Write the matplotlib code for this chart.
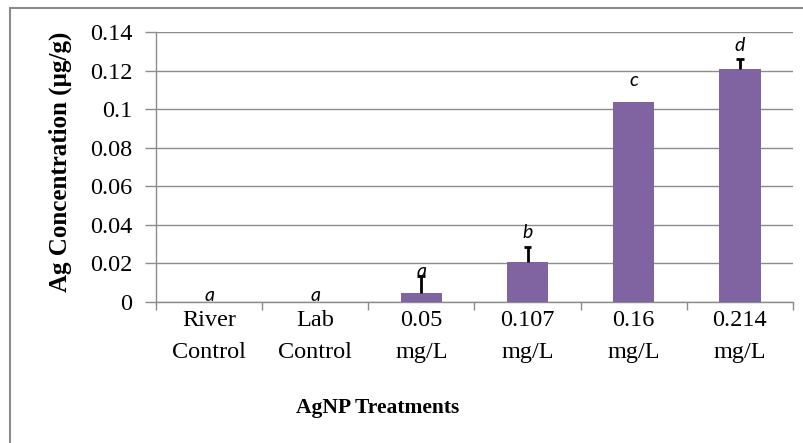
import matplotlib
matplotlib.use("Agg")
import matplotlib.pyplot as plt
from matplotlib.lines import Line2D
import numpy as np

categories = ["River\nControl", "Lab\nControl", "0.05\nmg/L", "0.107\nmg/L", "0.16\nmg/L", "0.214\nmg/L"]
ag_conc = [0.0, 0.0, 0.0045, 0.0209, 0.1035, 0.121]
ag_err = [0.0, 0.0, 0.009, 0.0078, 0.0, 0.005]
letters = ["a", "a", "a", "b", "c", "d"]
# vertical offset of each significance letter above its bar/error cap (points)
letter_offset = [5, 5, 3.5, 10, 16, 10]

serif = "Liberation Serif"
bar_color = "#8064A2"
grid_color = "#8C8C8C"

fig = plt.figure(figsize=(8.04, 4.43), dpi=100)
ax = fig.add_axes([0.194, 0.3183, 0.7923, 0.6095])

x = np.arange(len(categories))
ax.bar(x, ag_conc, width=0.39, color=bar_color, zorder=3)

# upper-only error bars with a cap
cap_half = 0.037
for xi, v, e in zip(x, ag_conc, ag_err):
    if e > 0:
        ax.vlines(xi, v, v + e, color="black", linewidth=2, zorder=4)
        ax.hlines(v + e, xi - cap_half, xi + cap_half, color="black", linewidth=2, zorder=4)

for xi, v, e, lab, off in zip(x, ag_conc, ag_err, letters, letter_offset):
    ax.annotate(lab, (xi, v + e), xytext=(0, off), textcoords="offset points",
                ha="center", va="center", fontsize=14, style="italic",
                family="Lato", color="black", zorder=5)

ax.set_xlim(-0.5, len(categories) - 0.5)
ax.set_ylim(0, 0.14)
ax.set_yticks(np.arange(0, 0.141, 0.02))
ax.set_yticklabels(["0", "0.02", "0.04", "0.06", "0.08", "0.1", "0.12", "0.14"],
                   family=serif, fontsize=17.5)
ax.yaxis.grid(True, color=grid_color, linewidth=1)
ax.set_axisbelow(True)

ax.set_xticks(x)
ax.set_xticklabels(categories, family=serif, fontsize=17.5, linespacing=1.65)
ax.set_xticks(np.arange(-0.5, len(categories)), minor=True)
ax.tick_params(axis="x", which="major", length=0, pad=6)
ax.tick_params(axis="x", which="minor", length=6, color=grid_color, width=1)
ax.tick_params(axis="y", length=8, color=grid_color, width=1, pad=9)

for side in ["top", "right"]:
    ax.spines[side].set_visible(False)
for side in ["left", "bottom"]:
    ax.spines[side].set_color(grid_color)
    ax.spines[side].set_linewidth(1)

fig.text(60 / 804, 1 - 162 / 443, "Ag Concentration (µg/g)", rotation=90,
         ha="center", va="center", family=serif, fontsize=18, fontweight="bold")
fig.text(378 / 804, 1 - 408 / 443, "AgNP Treatments", ha="center", va="center",
         family=serif, fontsize=15.5, fontweight="bold")

# chart frame (top and left edges)
fig.add_artist(Line2D([10 / 804, 10 / 804], [0, 1 - 8 / 443], transform=fig.transFigure,
                      color="#8C8C8C", linewidth=1.5))
fig.add_artist(Line2D([10 / 804, 1], [1 - 8 / 443, 1 - 8 / 443], transform=fig.transFigure,
                      color="#8C8C8C", linewidth=1.5))

fig.savefig("out.png", dpi=100)
